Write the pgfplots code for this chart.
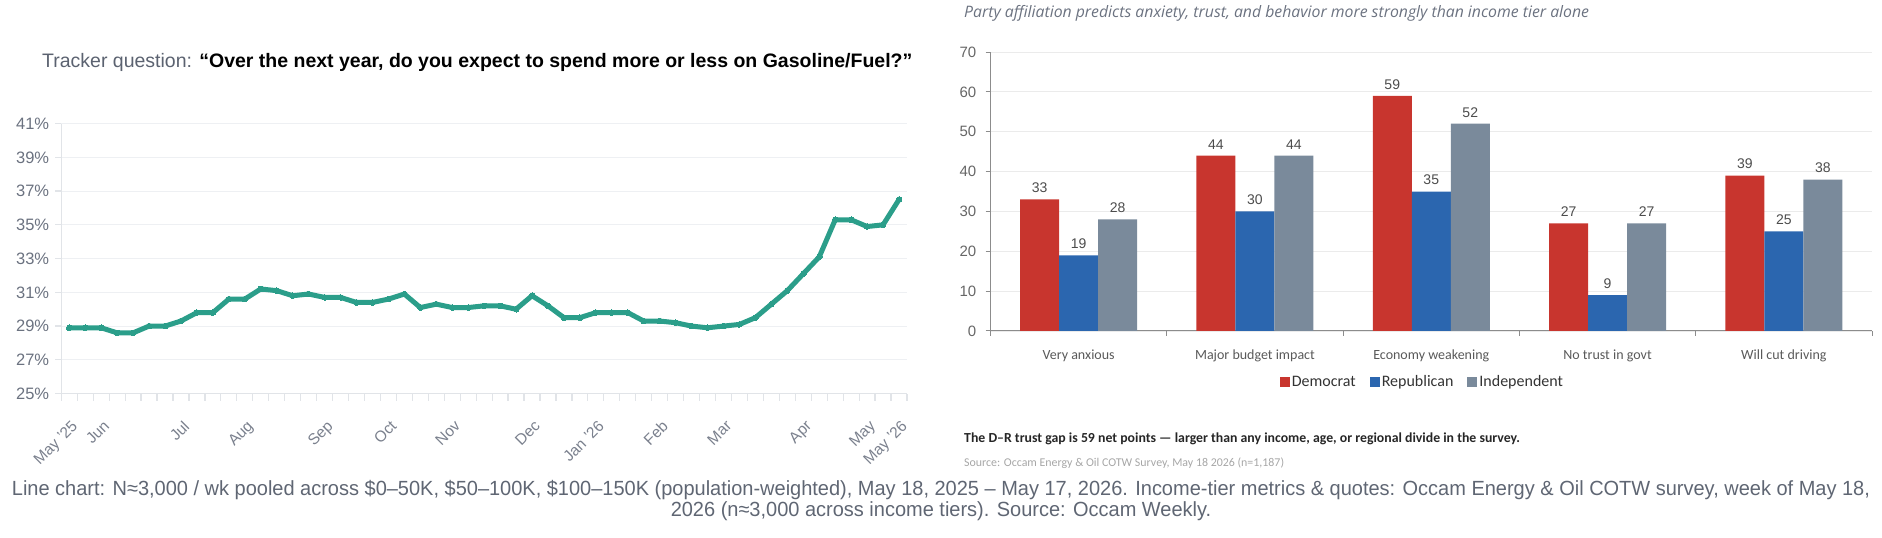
\documentclass[border=0pt]{standalone}
\usepackage{fontspec}
\setmainfont{Liberation Sans}
\newfontfamily\carlito{Carlito}
\newfontfamily\opensans{Open Sans}
\newfontfamily\narrow{Liberation Sans}[FakeStretch=0.975]
\usepackage{pgfplots}
\usepackage{pgfplotstable}
\pgfplotsset{compat=1.18}
\definecolor{teal1}{HTML}{2B9E8A}
\definecolor{tickgray}{HTML}{6B7280}
\definecolor{gridc}{HTML}{EEF0F3}
\definecolor{axc}{HTML}{E1E4E8}
\definecolor{dem}{HTML}{C8352E}
\definecolor{rep}{HTML}{2B66AF}
\definecolor{ind}{HTML}{7A8A9B}
\definecolor{footc}{HTML}{5F6673}
\definecolor{titleg}{HTML}{5B6270}

\pgfplotstableread{
w v
0 28.9
1 28.9
2 28.9
3 28.6
4 28.6
5 29.0
6 29.0
7 29.3
8 29.8
9 29.8
10 30.6
11 30.6
12 31.2
13 31.1
14 30.8
15 30.9
16 30.7
17 30.7
18 30.4
19 30.4
20 30.6
21 30.9
22 30.1
23 30.3
24 30.1
25 30.1
26 30.2
27 30.2
28 30.0
29 30.8
30 30.2
31 29.5
32 29.5
33 29.8
34 29.8
35 29.8
36 29.3
37 29.3
38 29.2
39 29.0
40 28.9
41 29.0
42 29.1
43 29.5
44 30.3
45 31.1
46 32.1
47 33.1
48 35.3
49 35.3
50 34.9
51 35.0
52 36.5
}\linedata

\pgfplotstableread{
x D R I
0 33 19 28
1 44 30 44
2 59 35 52
3 27 9 27
4 39 25 38
}\bardata

\begin{document}
\begin{tikzpicture}[x=1pt,y=1pt]
\useasboundingbox (0,0) rectangle (1882,538);

% ---------- left title ----------
\node[anchor=west,inner sep=0pt] at (42,476) {\fontsize{19.5}{22}\selectfont\color{titleg}Tracker question: \textcolor{black}{\bfseries “Over the next year, do you expect to spend more or less on Gasoline/Fuel?”}};

% ---------- line chart ----------
\begin{axis}[
  at={(61.3pt,144.4pt)}, anchor=south west,
  width=845.7pt, height=270pt, scale only axis,
  xmin=-0.5, xmax=52.5, ymin=25, ymax=41,
  axis x line*=bottom, axis y line*=left,
  axis line style={draw=axc, line width=1.5pt},
  ymajorgrids, grid style={draw=gridc, line width=1pt},
  ytick={25,27,...,41},
  yticklabels={25\%,27\%,29\%,31\%,33\%,35\%,37\%,39\%,41\%},
  yticklabel style={font=\fontsize{16.5}{16.5}\selectfont, text=tickgray, inner sep=0pt, xshift=-6pt},
  ytick style={draw=axc, line width=1.2pt},
  major tick length=6pt, tick align=outside,
  xtick={0,2,7,11,16,20,24,29,33,37,41,46,50,52},
  xticklabels={May '25,Jun,Jul,Aug,Sep,Oct,Nov,Dec,Jan '26,Feb,Mar,Apr,May,May '26},
  x tick style={draw=none},
  minor xtick={-0.5,0.5,...,52.5},
  minor x tick style={draw=axc, line width=1.2pt},
  minor tick length=7pt,
  xticklabel style={font=\fontsize{15.5}{15.5}\selectfont, text=tickgray!90, rotate=45, anchor=north east, inner sep=0pt, yshift=-15pt, xshift=-13pt},
  /pgf/number format/assume math mode=true,
  clip=false,
]
\addplot[teal1, line width=5pt, line join=round, mark=*, mark size=2.8pt, mark options={fill=teal1, draw=teal1, line width=0pt}] table[x=w,y=v] {\linedata};
\end{axis}

% ---------- bar chart ----------
\node[anchor=west,inner sep=0pt] at (964,525) {\opensans\itshape\fontsize{15.8}{18}\selectfont\color{tickgray}Party affiliation predicts anxiety, trust, and behavior more strongly than income tier alone};

\begin{axis}[
  at={(990.5pt,207pt)}, anchor=south west,
  width=881.5pt, height=279pt, scale only axis,
  xmin=-0.5, xmax=4.5, ymin=0, ymax=70,
  ybar=0pt, bar width=39pt,
  axis x line*=bottom, axis y line*=left,
  axis line style={draw=black!45, line width=1pt},
  ymajorgrids, grid style={draw=black!8, line width=0.8pt},
  ytick={0,10,...,70},
  yticklabel style={font=\fontsize{15}{15}\selectfont, text=black!60, inner sep=0pt, xshift=-9pt},
  ytick style={draw=black!45, line width=1pt},
  major tick length=5pt, tick align=outside,
  xtick={0,1,2,3,4},
  xticklabels={Very anxious,Major budget impact,Economy weakening,No trust in govt,Will cut driving},
  x tick style={draw=none},
  minor xtick={-0.5,0.5,...,4.5},
  minor x tick style={draw=black!45, line width=1pt},
  minor tick length=5pt,
  xticklabel style={font=\carlito\fontsize{14}{14}\selectfont, text=black!65, inner sep=0pt, yshift=-14pt},
  /pgf/number format/assume math mode=true,
  nodes near coords,
  nodes near coords style={font=\fontsize{14}{14}\selectfont, text=black!70, yshift=3pt},
  legend style={at={(0.49,-0.183)}, anchor=center, draw=none, fill=none,
     legend columns=3, font=\carlito\fontsize{16}{16}\selectfont, text=black!80,
     /tikz/every even column/.append style={column sep=12pt}},
  legend image code/.code={\fill[#1] (-3pt,-5pt) rectangle (7pt,5pt);},
  clip=false,
]
\addplot[fill=dem, draw=none] table[x=x,y=D] {\bardata};
\addplot[fill=rep, draw=none] table[x=x,y=R] {\bardata};
\addplot[fill=ind, draw=none] table[x=x,y=I] {\bardata};
\legend{Democrat,Republican,Independent}
\end{axis}

\node[anchor=west,inner sep=0pt] at (964,99) {\carlito\bfseries\fontsize{13.8}{15}\selectfont\color{black!85}The D–R trust gap is 59 net points — larger than any income, age, or regional divide in the survey.};
\node[anchor=west,inner sep=0pt] at (964,75) {\carlito\fontsize{11.9}{13}\selectfont\color{black!35}Source: Occam Energy \& Oil COTW Survey, May 18 2026 (n=1,187)};

% ---------- footer ----------
\node[anchor=center,inner sep=0pt] at (941,48) {\narrow\fontsize{20.5}{22}\selectfont\color{footc}Line chart: N≈3,000 / wk pooled across \$0–50K, \$50–100K, \$100–150K (population-weighted), May 18, 2025 – May 17, 2026. Income-tier metrics \& quotes: Occam Energy \& Oil COTW survey, week of May 18,};
\node[anchor=center,inner sep=0pt] at (941,27) {\narrow\fontsize{20.5}{22}\selectfont\color{footc}2026 (n≈3,000 across income tiers). Source: Occam Weekly.};
\end{tikzpicture}
\end{document}
